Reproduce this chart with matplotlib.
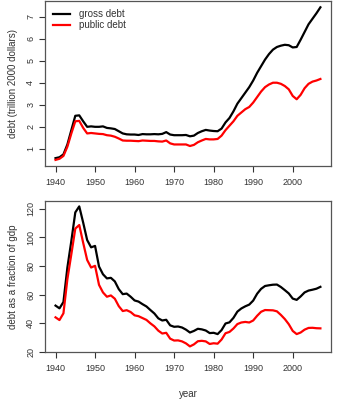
import matplotlib
matplotlib.use('Agg')
import matplotlib.pyplot as plt

plt.rcParams['font.family'] = ['Liberation Sans', 'DejaVu Sans']

years = list(range(1940, 2008))

# debt in trillion 2000 dollars
gross_debt = [0.58, 0.62, 0.75, 1.2, 1.85, 2.5, 2.52, 2.25, 2.0, 2.02,
              2.0, 2.0, 2.02, 1.95, 1.93, 1.9, 1.8, 1.7, 1.66, 1.65,
              1.65, 1.63, 1.67, 1.66, 1.66, 1.67, 1.66, 1.68, 1.76, 1.65,
              1.62, 1.62, 1.62, 1.63, 1.57, 1.6, 1.72, 1.8, 1.86, 1.83,
              1.81, 1.8, 1.92, 2.2, 2.4, 2.7, 3.05, 3.3, 3.55, 3.8,
              4.1, 4.45, 4.75, 5.05, 5.3, 5.5, 5.62, 5.68, 5.72, 5.7,
              5.6, 5.62, 5.95, 6.3, 6.65, 6.9, 7.15, 7.42]
public_debt = [0.5, 0.55, 0.68, 1.1, 1.7, 2.25, 2.27, 1.95, 1.7, 1.72,
               1.7, 1.68, 1.67, 1.62, 1.6, 1.55, 1.47, 1.38, 1.37, 1.37,
               1.36, 1.35, 1.38, 1.37, 1.36, 1.36, 1.34, 1.33, 1.38, 1.25,
               1.2, 1.2, 1.2, 1.2, 1.13, 1.18, 1.3, 1.38, 1.45, 1.43,
               1.43, 1.45, 1.6, 1.85, 2.05, 2.25, 2.5, 2.65, 2.8, 2.9,
               3.1, 3.35, 3.6, 3.8, 3.92, 4.0, 4.0, 3.95, 3.85, 3.7,
               3.4, 3.25, 3.45, 3.75, 3.95, 4.05, 4.1, 4.17]

# debt as % of gdp
gross_pct = [52.4, 50.5, 54.9, 79.0, 97.6, 117.5, 121.7, 110.3, 98.2, 93.1,
             94.1, 79.7, 74.3, 71.4, 71.8, 69.3, 63.9, 60.4, 60.8, 58.6,
             56.0, 55.2, 53.4, 51.8, 49.3, 46.9, 43.5, 42.0, 42.5, 38.6,
             37.6, 37.8, 37.1, 35.6, 33.6, 34.7, 36.2, 35.8, 35.0, 33.2,
             33.4, 32.5, 35.3, 39.9, 40.7, 43.8, 48.2, 50.4, 51.9, 53.1,
             55.9, 60.7, 64.1, 66.1, 66.6, 67.0, 67.1, 65.4, 63.2, 60.9,
             57.3, 56.4, 58.8, 61.6, 62.9, 63.5, 64.2, 65.5]
public_pct = [44.2, 42.3, 47.0, 70.9, 88.3, 106.2, 108.7, 96.2, 84.3, 79.0,
              80.2, 66.9, 61.6, 58.6, 59.5, 57.2, 52.0, 48.6, 49.2, 47.9,
              45.6, 45.0, 43.7, 42.4, 40.0, 37.9, 34.9, 32.9, 33.4, 29.3,
              28.0, 28.1, 27.4, 26.0, 23.9, 25.3, 27.5, 27.8, 27.4, 25.6,
              26.1, 25.8, 28.7, 33.1, 34.0, 36.4, 39.5, 40.6, 41.0, 40.6,
              42.0, 45.3, 48.1, 49.3, 49.2, 49.1, 48.4, 45.9, 43.0, 39.4,
              34.7, 32.5, 33.6, 35.6, 36.8, 36.9, 36.6, 36.5]

xticks = [1940, 1950, 1960, 1970, 1980, 1990, 2000]

fig = plt.figure(figsize=(3.43, 4.0), dpi=100)
ax1 = fig.add_axes([0.131, 0.585, 0.834, 0.412])
ax2 = fig.add_axes([0.131, 0.12, 0.834, 0.378])


def r_style(ax, yticks):
    ax.margins(x=0.04, y=0.04)
    ax.set_xticks(xticks)
    ax.set_yticks(yticks)
    ax.tick_params(direction='out', length=4, width=0.8, labelsize=6.5,
                   colors='#333333', pad=4.5)
    ax.tick_params(axis='y', pad=3)
    for lbl in ax.get_yticklabels():
        lbl.set_rotation(90)
        lbl.set_va('center')
    for s in ax.spines.values():
        s.set_color('#555555')
        s.set_linewidth(0.9)


ax1.plot(years, gross_debt, color='black', lw=1.6, label='gross debt')
ax1.plot(years, public_debt, color='red', lw=1.6, label='public debt')
r_style(ax1, [1, 2, 3, 4, 5, 6, 7])
ax1.set_ylabel('debt (trillion 2000 dollars)', fontsize=7, color='#333333', labelpad=6)
ax1.legend(loc='upper left', frameon=False, fontsize=7, handlelength=1.8,
           handletextpad=0.93, labelspacing=0.1, borderaxespad=0.4,
           labelcolor='#333333')

ax2.plot(years, gross_pct, color='black', lw=1.6)
ax2.plot(years, public_pct, color='red', lw=1.6)
r_style(ax2, [20, 40, 60, 80, 100, 120])
ax2.set_ylabel('debt as a fraction of gdp', fontsize=7, color='#333333', labelpad=6)
ax2.set_xlabel('year', fontsize=7, color='#333333', labelpad=12)

fig.savefig('out.png', dpi=100)
